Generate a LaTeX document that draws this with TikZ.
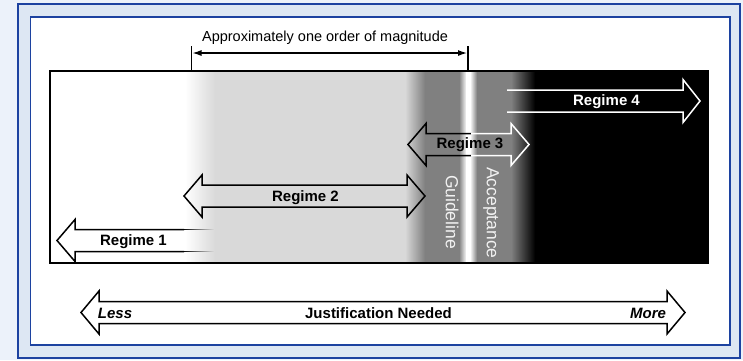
\documentclass[tikz,border=0pt]{standalone}
\usepackage{fontspec}
\setmainfont{Liberation Sans}
\usetikzlibrary{arrows.meta,fadings}
\definecolor{frameblue}{RGB}{28,66,160}
\definecolor{bandbg}{RGB}{221,231,243}
\definecolor{pagebg}{RGB}{236,242,250}
\definecolor{lgray}{RGB}{217,217,217}
\definecolor{mgray}{RGB}{128,128,128}
\definecolor{wtext}{RGB}{242,242,242}
\begin{document}
\begin{tikzpicture}[x=1pt,y=-1pt,
  bigarrow/.style={draw=black, line width=1.5pt, line join=miter},
  lbl/.style={font=\fontsize{15}{18}\selectfont\bfseries, inner sep=0pt, anchor=base},
  lblit/.style={font=\fontsize{15}{18}\selectfont\bfseries\itshape, inner sep=0pt, anchor=base},
  vlbl/.style={font=\fontsize{17.5}{20}\selectfont, text=wtext, inner sep=0pt, rotate=-90},
  toplbl/.style={font=\fontsize{14.5}{17}\selectfont, inner sep=0pt, anchor=base},
  tick/.style={line width=1.5pt},
  dimarrow/.style={line width=1.2pt, {Latex[length=9pt,width=6pt]}-{Latex[length=9pt,width=6pt]}}]
\useasboundingbox (0,0) rectangle (743,360);
% frames
\fill[pagebg] (0,0) rectangle (743,360);
\draw[draw=frameblue, fill=bandbg, line width=2pt] (18,4) rectangle (740,357.5);
\draw[draw=frameblue, fill=white, line width=1.5pt] (30.5,17) rectangle (730,345);
% background gradient of the main band
\fill[white] (50,71) rectangle (190,263);
\fill[lgray] (212,71) rectangle (410,263);
\fill[mgray] (420,71) rectangle (518,263);
\fill[black] (530,71) rectangle (708,263);
\shade[left color=white, right color=lgray] (185,71) rectangle (215,263);
\shade[left color=lgray, right color=mgray] (405,71) rectangle (425,263);
\shade[left color=mgray, right color=white] (459,71) rectangle (466.5,263);
\fill[white] (466,71) rectangle (470.5,263);
\shade[left color=white, right color=mgray] (470,71) rectangle (477,263);
\shade[left color=mgray, right color=black] (511,71) rectangle (535,263);
\draw[line width=2pt] (50,71) rectangle (708,263);
% magnitude dimension
\coordinate (mLt) at (191.5,46);
\coordinate (mLb) at (191.5,71);
\coordinate (mRt) at (468,46);
\coordinate (mRb) at (468,71);
\coordinate (mLa) at (192.5,53);
\coordinate (mRa) at (467,53);
\draw[tick] (mLt) -- (mLb);
\draw[tick] (mRt) -- (mRb);
\draw[dimarrow] (mLa) -- (mRa);
\node[toplbl] (mag) at (325,41) {Approximately one order of magnitude};
% Regime 1 (left arrow, fading tail)
\draw[bigarrow] (184,229.5) -- (75,229.5) -- (75,219.5) -- (57,240.5) -- (75,261.5) -- (75,251.5) -- (184,251.5);
\fill[black, path fading=east] (183,228.75) rectangle (214,230.25);
\fill[black, path fading=east] (183,250.75) rectangle (214,252.25);
\node[lbl] (r1) at (133.5,245) {Regime 1};
% Regime 2
\draw[bigarrow] (184,196) -- (202,175) -- (202,185) -- (407,185) -- (407,175) -- (425,196) -- (407,217) -- (407,207) -- (202,207) -- (202,217) -- cycle;
\node[lbl] (r2) at (305.5,201) {Regime 2};
% Regime 3 (outline black, then white)
\newcommand\RegThreePath{(408,144.5) -- (426,123.5) -- (426,133.5) -- (511,133.5) -- (511,123.5) -- (529,144.5) -- (511,165.5) -- (511,155.5) -- (426,155.5) -- (426,165.5) -- cycle}
\begin{scope}
\clip (395,110) rectangle (471,180);
\draw[bigarrow] \RegThreePath;
\end{scope}
\begin{scope}
\clip (471,110) rectangle (545,180);
\draw[bigarrow, draw=white] \RegThreePath;
\end{scope}
\node[lbl] (r3) at (470,148) {Regime 3};
% Regime 4 (white, open tail)
\draw[bigarrow, draw=white] (507,90) -- (683,90) -- (683,79.5) -- (700,101) -- (683,122.5) -- (683,112) -- (507,112);
\node[lbl, text=white] (r4) at (606.5,105) {Regime 4};
% vertical labels
\node[vlbl] (gl) at (452,212) {Guideline};
\node[vlbl] (acc) at (491,213) {Acceptance};
% justification arrow
\draw[bigarrow] (81,312.5) -- (99,291) -- (99,301.5) -- (667,301.5) -- (667,291) -- (685,312.5) -- (667,334) -- (667,323.5) -- (99,323.5) -- (99,334) -- cycle;
\node[lblit] (less) at (115,318) {Less};
\node[lbl] (just) at (378.5,318) {Justification Needed};
\node[lblit] (more) at (648,318) {More};
\end{tikzpicture}
\end{document}
